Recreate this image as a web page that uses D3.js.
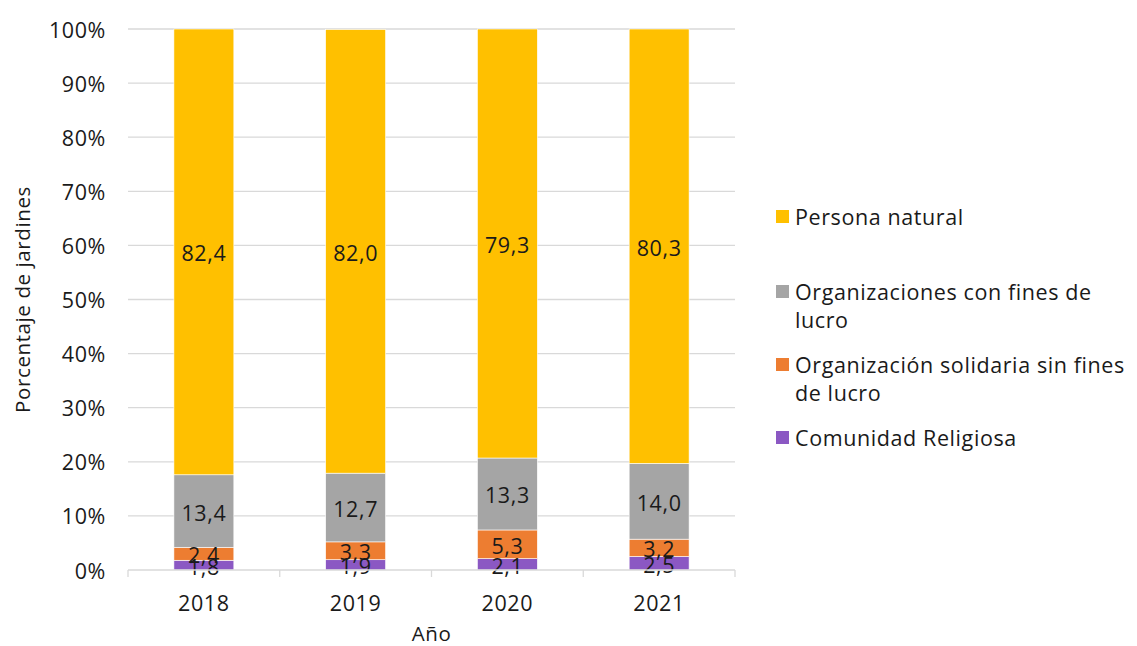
<!DOCTYPE html>
<html>
<head>
<meta charset="utf-8">
<script src="https://cdn.jsdelivr.net/npm/d3@7"></script>
<style>
  body { margin: 0; background: #fff; }
  text { font-family: "Open Sans", "Noto Sans", sans-serif; fill: #1a1a1a; letter-spacing: 0.6px; }
</style>
</head>
<body>
<div id="chart"></div>
<script>
const years = ["2018", "2019", "2020", "2021"];
const seriesNames = ["Comunidad Religiosa", "Organización solidaria sin fines de lucro", "Organizaciones con fines de lucro", "Persona natural"];
const religiosa = [1.8, 1.9, 2.1, 2.5];
const solidaria = [2.4, 3.3, 5.3, 3.2];
const conLucro = [13.4, 12.7, 13.3, 14.0];
const natural = [82.4, 82.0, 79.3, 80.3];
const colors = ["#8b58c3", "#ed7d31", "#a5a5a5", "#ffc000"];
const yTicks = [0, 10, 20, 30, 40, 50, 60, 70, 80, 90, 100];

const width = 1137, height = 646;
const margin = { top: 29, right: 402, bottom: 76, left: 128 };
const fs = 21.5;

const svg = d3.select("#chart").append("svg")
    .attr("width", width)
    .attr("height", height);

const x = d3.scaleBand().domain(years)
    .range([margin.left, width - margin.right])
    .paddingInner(0.605).paddingOuter(0.3025);
const xOuter = d3.scaleBand().domain(years).range([margin.left, width - margin.right]);
const y = d3.scaleLinear().domain([0, 100]).range([height - margin.bottom, margin.top]);

// gridlines
svg.append("g").selectAll("line").data(yTicks.slice(1)).enter().append("line")
    .attr("x1", margin.left).attr("x2", width - margin.right)
    .attr("y1", d => y(d)).attr("y2", d => y(d))
    .attr("stroke", "#d9d9d9").attr("stroke-width", 1.3);

// y tick labels
svg.append("g").selectAll("text").data(yTicks).enter().append("text")
    .attr("x", margin.left - 22).attr("y", d => y(d))
    .attr("text-anchor", "end").attr("dominant-baseline", "central")
    .attr("font-size", fs)
    .text(d => d + "%");

const table = years.map((yr, i) => ({ year: yr, s0: religiosa[i], s1: solidaria[i], s2: conLucro[i], s3: natural[i] }));
const stack = d3.stack().keys(["s0", "s1", "s2", "s3"]);
const layers = stack(table);

const g = svg.append("g");
layers.forEach((layer, k) => {
    g.append("g").selectAll("rect").data(layer).enter().append("rect")
        .attr("x", d => x(d.data.year))
        .attr("width", x.bandwidth())
        .attr("y", d => y(d[1]))
        .attr("height", d => y(d[0]) - y(d[1]))
        .attr("fill", colors[k])
        .attr("stroke", "#fff").attr("stroke-width", 0.6);
});

// x axis line and ticks
const base = y(0);
svg.append("line")
    .attr("x1", margin.left).attr("x2", width - margin.right)
    .attr("y1", base).attr("y2", base)
    .attr("stroke", "#d9d9d9").attr("stroke-width", 1.3);
const tickPos = years.map(d => xOuter(d)).concat([width - margin.right]);
svg.append("g").selectAll("line").data(tickPos).enter().append("line")
    .attr("x1", d => d).attr("x2", d => d)
    .attr("y1", base).attr("y2", base + 7)
    .attr("stroke", "#d9d9d9").attr("stroke-width", 1.3);

svg.append("g").selectAll("text").data(years).enter().append("text")
    .attr("x", d => x(d) + x.bandwidth() / 2).attr("y", base + 32)
    .attr("text-anchor", "middle").attr("dominant-baseline", "central")
    .attr("font-size", fs)
    .text(d => d);

// data labels
layers.forEach((layer, k) => {
    g.append("g").selectAll("text").data(layer).enter().append("text")
        .attr("x", d => x(d.data.year) + x.bandwidth() / 2)
        .attr("y", d => y((d[0] + d[1]) / 2) + 1)
        .attr("text-anchor", "middle").attr("dominant-baseline", "central")
        .attr("font-size", fs)
        .text(d => (d[1] - d[0]).toFixed(1).replace(".", ","));
});

// axis titles
svg.append("text")
    .attr("transform", `translate(22,${(margin.top + base) / 2}) rotate(-90)`)
    .attr("text-anchor", "middle").attr("dominant-baseline", "central")
    .attr("font-size", 20.5)
    .text("Porcentaje de jardines");
svg.append("text")
    .attr("x", (margin.left + width - margin.right) / 2).attr("y", 633)
    .attr("text-anchor", "middle").attr("dominant-baseline", "central")
    .attr("font-size", 20.5)
    .text("Año");

// legend
const legendItems = [
    { c: colors[3], lines: ["Persona natural"], y: 216 },
    { c: colors[2], lines: ["Organizaciones con fines de", "lucro"], y: 291 },
    { c: colors[1], lines: ["Organización solidaria sin fines", "de lucro"], y: 364 },
    { c: colors[0], lines: ["Comunidad Religiosa"], y: 437 }
];
const leg = svg.append("g");
legendItems.forEach(it => {
    leg.append("rect").attr("x", 776).attr("y", it.y - 6).attr("width", 13).attr("height", 13).attr("fill", it.c);
    it.lines.forEach((ln, j) => {
        leg.append("text").attr("x", 795).attr("y", it.y + j * 28)
            .attr("dominant-baseline", "central").attr("font-size", fs)
            .text(ln);
    });
});
</script>
</body>
</html>
